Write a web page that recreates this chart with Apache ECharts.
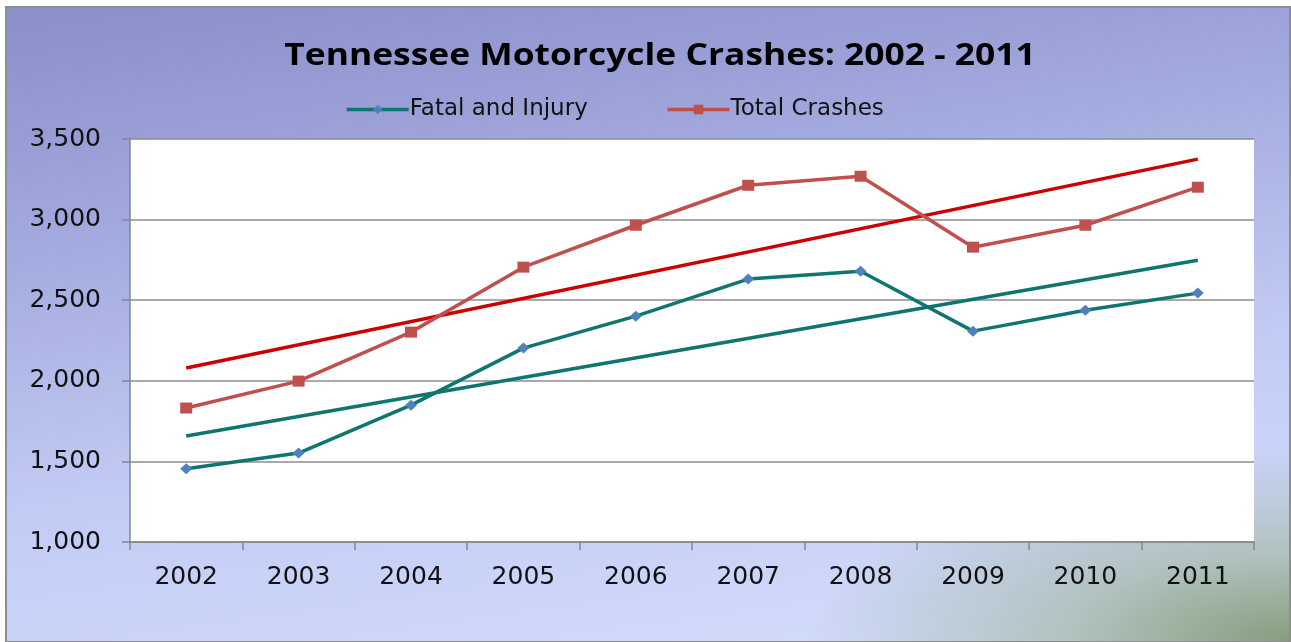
<!DOCTYPE html>
<html>
<head>
<meta charset="utf-8">
<script src="https://cdn.jsdelivr.net/npm/echarts@6/dist/echarts.min.js"></script>
<style>
    html, body { margin: 0; padding: 0; background: #fff; }
    #frame {
        position: absolute; left: 5px; top: 6px; width: 1282px; height: 633px;
        border: 2px solid #8e8e8e;
        background:
            radial-gradient(ellipse 480px 190px at 100% 100%, rgba(135,158,125,1), rgba(165,185,170,0.75) 45%, rgba(205,218,240,0) 100%),
            linear-gradient(172deg, #8a8ec9 0%, #a3aade 30%, #c2cbf4 62%, #d4defc 100%);
    }
    #chart { position: absolute; left: 0; top: 0; width: 1291px; height: 642px; }
</style>
</head>
<body>
<div id="frame"></div>
<div id="chart"></div>
<script>
var years = ['2002', '2003', '2004', '2005', '2006', '2007', '2008', '2009', '2010', '2011'];
var fatalInjury = [1455, 1552, 1849, 2203, 2401, 2631, 2680, 2308, 2438, 2544];
var totalCrashes = [1831, 1998, 2302, 2705, 2965, 3213, 3269, 2829, 2965, 3201];
// trend lines, read at the first and last year only
var fatalTrend = [1657, null, null, null, null, null, null, null, null, 2748];
var totalTrend = [2079, null, null, null, null, null, null, null, null, 3375];

var chart = echarts.init(document.getElementById('chart'));

var option = {
    backgroundColor: 'transparent',
    animation: false,
    // title as graphic text so it can be widened like the original
    graphic: [{
        type: 'text',
        x: 660,
        y: 56,
        scaleX: 1.18,
        style: {
            text: 'Tennessee Motorcycle Crashes: 2002 - 2011',
            fontFamily: 'Open Sans',
            fontWeight: 'bold',
            fontSize: 30,
            fill: '#000',
            align: 'center',
            verticalAlign: 'middle'
        }
    }],
    legend: {
        data: ['Fatal and Injury', 'Total Crashes'],
        left: 340,
        top: 93,
        itemWidth: 62,
        itemHeight: 12,
        itemGap: 78,
        lineStyle: { width: 3.5 },
        textStyle: {
            fontFamily: 'DejaVu Sans',
            fontSize: 23,
            color: '#111',
            padding: [0, 0, 0, -4]
        }
    },
    grid: {
        left: 130,
        right: 37,
        top: 139,
        bottom: 100,
        show: true,
        backgroundColor: '#fff',
        borderWidth: 0
    },
    xAxis: {
        type: 'category',
        data: years,
        boundaryGap: true,
        axisLine: { lineStyle: { color: '#868686', width: 1.5 } },
        axisTick: { show: true, length: 8, lineStyle: { color: '#868686', width: 1.5 } },
        axisLabel: {
            fontFamily: 'DejaVu Sans',
            fontSize: 25,
            color: '#111',
            margin: 23
        },
        splitLine: { show: false }
    },
    yAxis: {
        type: 'value',
        min: 1000,
        max: 3500,
        interval: 500,
        axisLine: { show: true, lineStyle: { color: '#868686', width: 1.5 } },
        axisTick: { show: true, length: 8, lineStyle: { color: '#868686', width: 1.5 } },
        axisLabel: {
            fontFamily: 'DejaVu Sans',
            fontSize: 25,
            color: '#111',
            margin: 29,
            formatter: function (v) {
                return v.toLocaleString('en-US');
            }
        },
        splitLine: { lineStyle: { color: '#8c8c8c', width: 1.5 } }
    },
    series: [
        {
            name: 'Fatal and Injury trend',
            type: 'line',
            data: fatalTrend,
            connectNulls: true,
            showSymbol: false,
            symbol: 'none',
            lineStyle: { color: '#0f766f', width: 3.5 },
            itemStyle: { color: '#0f766f' },
            z: 2
        },
        {
            name: 'Total Crashes trend',
            type: 'line',
            data: totalTrend,
            connectNulls: true,
            showSymbol: false,
            symbol: 'none',
            lineStyle: { color: '#cc0000', width: 3.5 },
            itemStyle: { color: '#cc0000' },
            z: 2
        },
        {
            name: 'Fatal and Injury',
            type: 'line',
            data: fatalInjury,
            symbol: 'diamond',
            symbolSize: [12, 11],
            lineStyle: { color: '#0f766f', width: 3.5 },
            itemStyle: { color: '#4f81bd', borderWidth: 0 },
            z: 3
        },
        {
            name: 'Total Crashes',
            type: 'line',
            data: totalCrashes,
            symbol: 'rect',
            symbolSize: [12, 11],
            lineStyle: { color: '#c0504d', width: 3.5 },
            itemStyle: { color: '#c0504d', borderWidth: 0 },
            z: 3
        }
    ]
};

chart.setOption(option);
</script>
</body>
</html>
